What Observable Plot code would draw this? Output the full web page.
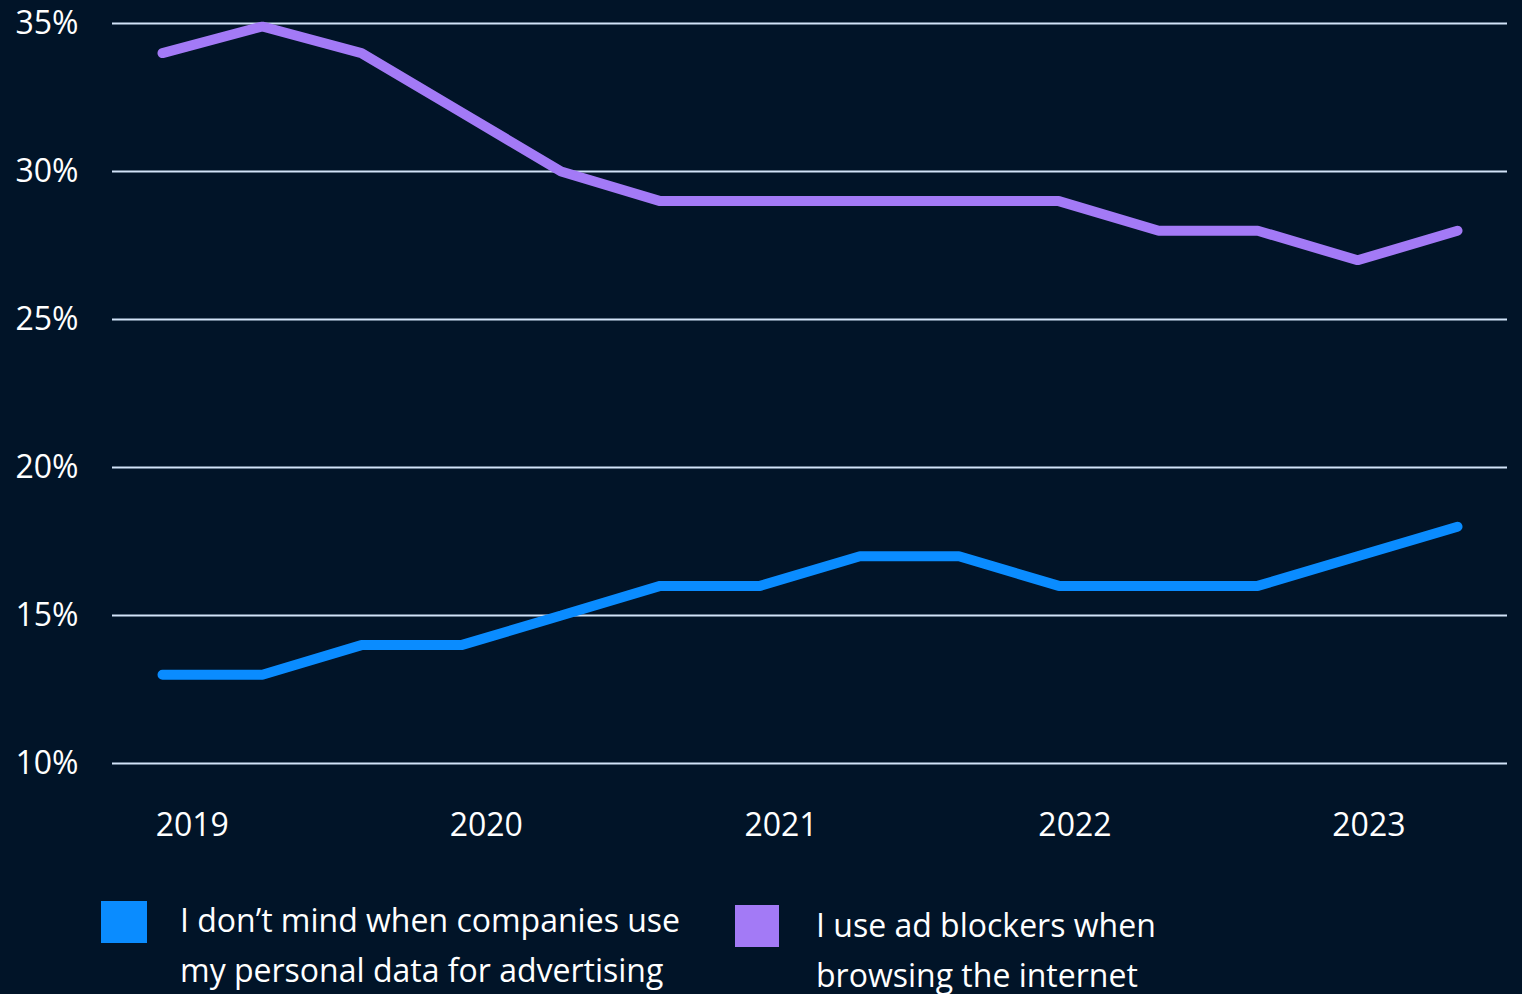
<!DOCTYPE html>
<html>
<head>
<meta charset="utf-8">
<script src="https://cdn.jsdelivr.net/npm/d3@7"></script>
<script src="https://cdn.jsdelivr.net/npm/@observablehq/plot@0.6"></script>
<style>
  html, body { margin: 0; padding: 0; background: #011428; }
  body { width: 1522px; overflow: hidden; font-family: "Open Sans", "Noto Sans", sans-serif; color: #ffffff; }
  #chart svg { display: block; }
  .legend { position: relative; height: 160px; }
  .swatch { position: absolute; }
  .label { position: absolute; font-size: 32px; line-height: 50px; white-space: nowrap; color: #ffffff; }
</style>
</head>
<body>
<div id="chart"></div>
<div class="legend" id="legend"></div>
<script>
// Survey waves (dates)
const waveDates = ["2018-11-25","2019-03-29","2019-07-30","2019-12-01","2020-04-03","2020-08-04","2020-12-06","2021-04-09","2021-08-10","2021-12-12","2022-04-15","2022-08-16","2022-12-18","2023-04-21"];
// Share of respondents (%)
const personalDataOk = [13,13,14,14,15,16,16,17,17,16,16,16,17,18];
const adBlockers = [34,34.9,34,32,30,29,29,29,29,29,28,28,27,28];
const seriesNames = ["I don’t mind when companies use my personal data for advertising", "I use ad blockers when browsing the internet"];
const seriesLines = [["I don’t mind when companies use", "my personal data for advertising"], ["I use ad blockers when", "browsing the internet"]];
const seriesColors = ["#0a8cff", "#a37af6"];
const yTicks = [10, 15, 20, 25, 30, 35];
const yearTicks = [2019, 2020, 2021, 2022, 2023];

const rows = [];
[personalDataOk, adBlockers].forEach((vals, s) => {
  vals.forEach((v, i) => rows.push({date: new Date(waveDates[i]), value: v, series: seriesNames[s]}));
});
const yearDates = yearTicks.map(y => new Date(Date.UTC(y, 0, 1)));

const chart = Plot.plot({
  width: 1522,
  height: 860,
  marginLeft: 112,
  marginRight: 15,
  marginTop: 23,
  marginBottom: 97,
  style: {background: "transparent", color: "#ffffff", fontFamily: "'Open Sans', 'Noto Sans', sans-serif", fontSize: "32px", overflow: "visible"},
  x: {type: "utc", inset: 50},
  y: {domain: [10, 35]},
  color: {domain: seriesNames, range: seriesColors},
  marks: [
    Plot.gridY(yTicks, {stroke: "#d2e3f8", strokeOpacity: 1, strokeWidth: 2}),
    Plot.axisY(yTicks, {tickSize: 0, tickPadding: 34, tickFormat: d => d + "%", label: null, fontSize: 32, fill: "#ffffff"}),
    Plot.axisX(yearDates, {tickSize: 0, tickPadding: 50, tickFormat: d3.utcFormat("%Y"), label: null, fontSize: 32, fill: "#ffffff"}),
    Plot.line(rows, {x: "date", y: "value", z: "series", stroke: "series", strokeWidth: 10, strokeLinejoin: "miter", strokeLinecap: "round"})
  ]
});
document.getElementById("chart").appendChild(chart);

// Legend
const legend = d3.select("#legend");
const swatchPos = [{left: 101, top: 41, w: 46, h: 42}, {left: 735, top: 45, w: 44, h: 42}];
const labelPos = [{left: 180, top: 35}, {left: 816, top: 40}];
seriesNames.forEach((name, i) => {
  legend.append("div").attr("class", "swatch")
    .style("left", swatchPos[i].left + "px").style("top", swatchPos[i].top + "px")
    .style("width", swatchPos[i].w + "px").style("height", swatchPos[i].h + "px")
    .style("background", seriesColors[i]);
  const lab = legend.append("div").attr("class", "label")
    .style("left", labelPos[i].left + "px").style("top", labelPos[i].top + "px");
  lab.html(seriesLines[i].join("<br>"));
});
</script>
</body>
</html>
